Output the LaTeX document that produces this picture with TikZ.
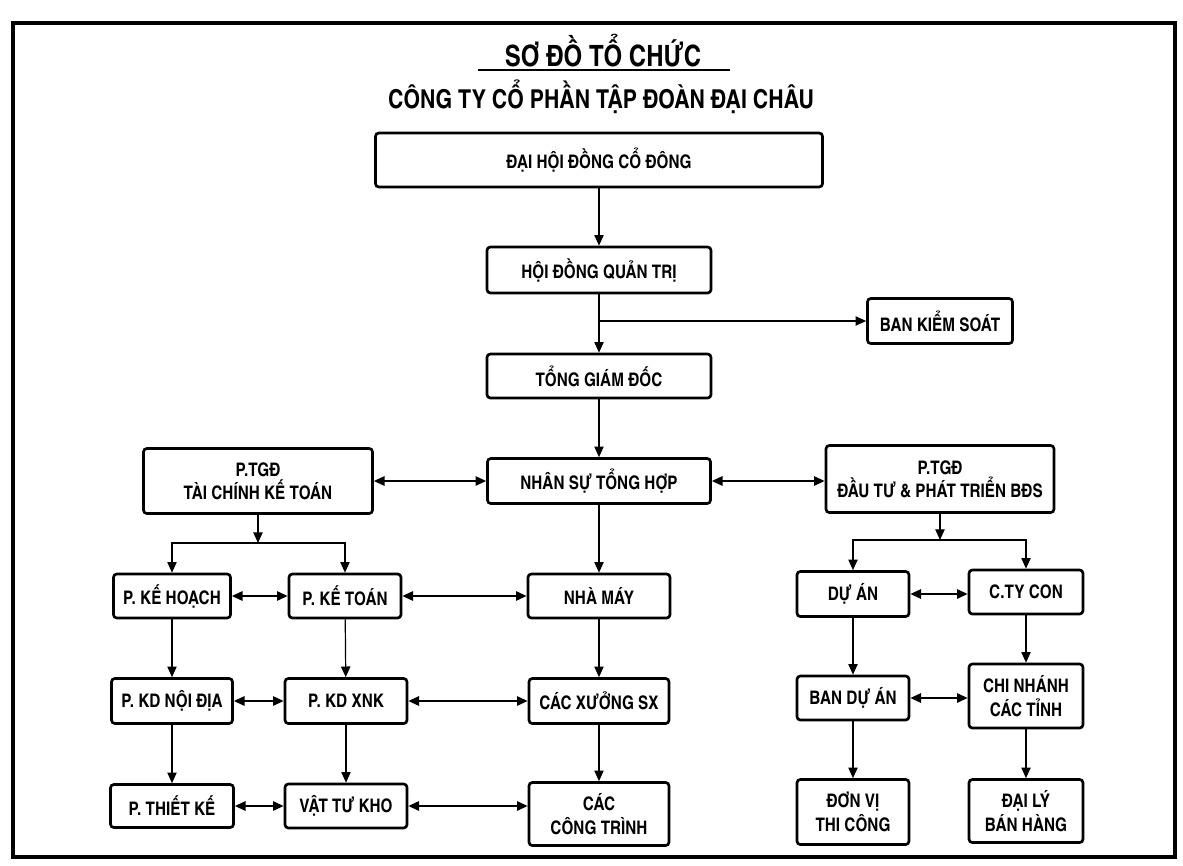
\documentclass[tikz,border=0pt]{standalone}
\usepackage{fontspec}
\setmainfont{TeX Gyre Heros Cn}
\usetikzlibrary{arrows.meta}

\tikzset{
  >={Triangle[length=8pt,width=7pt]},
  box/.style={draw=black,line width=2pt,rounded corners=2.5pt,fill=white,
    align=center,inner sep=1pt,font=\bfseries\fontsize{14}{17.5}\selectfont},
  wh/.style 2 args={minimum width=#1*0.75pt,minimum height=#2*0.75pt},
  link/.style={black,line width=0.9pt,->},
  both/.style={black,line width=1.4pt,<->},
}

\begin{document}
\begin{tikzpicture}
  % one unit is one pixel of the scan, y runs downwards
  \begin{scope}[x=0.75pt,y=-0.75pt,every node/.style={box}]
    \useasboundingbox (0,0) rectangle (1183,865);
    \draw[line width=2.4pt] (13,23) rectangle (1175,857);

    \node[draw=none,fill=none,font=\bfseries\fontsize{22}{26}\selectfont] (title) at (603,51) {SƠ ĐỒ TỔ CHỨC};
    \draw[line width=1.6pt] (478,70) -- (730,70);
    \node[draw=none,fill=none,font=\bfseries\fontsize{19.5}{23}\selectfont] (subtitle) at (601,97) {CÔNG TY CỔ PHẦN TẬP ĐOÀN ĐẠI CHÂU};

    % top of the chart
    \node[wh={447}{54}] (DHDCD) at (599,160) {ĐẠI HỘI ĐỒNG CỔ ĐÔNG};
    \node[wh={224}{46}] (HDQT) at (599,270) {HỘI ĐỒNG QUẢN TRỊ};
    \node[wh={145}{45}] (BKS) at (940,321) {BAN KIỂM SOÁT};
    \node[wh={224}{44}] (TGD) at (599,376) {TỔNG GIÁM ĐỐC};
    \coordinate (J_bks) at (599,321);

    \draw[link] (DHDCD) -- (HDQT);
    \draw[link] (HDQT) -- (TGD);
    \draw[link] (J_bks) -- (BKS);

    % middle row
    \node[wh={229}{65}] (TCKT) at (258,481) {P.TGĐ\\TÀI CHÍNH KẾ TOÁN};
    \node[wh={223}{45}] (NSTH) at (599,481) {NHÂN SỰ TỔNG HỢP};
    \node[wh={228}{67}] (DTPT) at (940,479) {P.TGĐ\\ĐẦU TƯ \& PHÁT TRIỂN BĐS};

    \draw[link] (TGD) -- (NSTH);
    \draw[both] (TCKT) -- (NSTH);
    \draw[both] (NSTH) -- (NSTH -| DTPT.west);

    % left and centre columns
    \node[wh={117}{44}] (PKH) at (172,596) {P. KẾ HOẠCH};
    \node[wh={112}{44}] (PKT) at (345,596) {P. KẾ TOÁN};
    \node[wh={142}{44}] (NM) at (599,596) {NHÀ MÁY};
    \node[wh={121}{45}] (KDND) at (172,701) {P. KD NỘI ĐỊA};
    \node[wh={122}{45}] (KDXNK) at (346,701) {P. KD XNK};
    \node[wh={140}{45}] (XSX) at (599,701) {CÁC XƯỞNG SX};
    \node[wh={123}{43}] (PTK) at (172,806) {P. THIẾT KẾ};
    \node[wh={122}{44}] (VTK) at (346,806) {VẬT TƯ KHO};
    \node[wh={140}{63}] (CCT) at (599,814) {CÁC\\CÔNG TRÌNH};

    \coordinate (J_L) at (258,543);
    \draw[link] (TCKT) -- (J_L);
    \draw[link] (J_L) -| (PKH);
    \draw[link] (J_L) -| (PKT);
    \draw[link] (NSTH) -- (NM);
    \draw[link] (PKH) -- (KDND);
    \draw[link] (KDND) -- (PTK);
    \draw[link] (PKT) -- (KDXNK);
    \draw[link] (KDXNK) -- (VTK);
    \draw[link] (NM) -- (XSX);
    \draw[link] (XSX) -- (CCT);
    \draw[both] (PKH) -- (PKT);
    \draw[both] (PKT) -- (NM);
    \draw[both] (KDND) -- (KDXNK);
    \draw[both] (KDXNK) -- (XSX);
    \draw[both] (PTK) -- (VTK);
    \draw[both] (VTK) -- (VTK -| CCT.west);

    % right columns
    \node[wh={112}{45}] (DA) at (853,594) {DỰ ÁN};
    \node[wh={114}{44}] (CTC) at (1026,592) {C.TY CON};
    \node[wh={112}{44}] (BDA) at (853,698) {BAN DỰ ÁN};
    \node[wh={114}{64}] (CNCT) at (1026,696) {CHI NHÁNH\\CÁC TỈNH};
    \node[wh={112}{65}] (DVTC) at (853,812) {ĐƠN VỊ\\THI CÔNG};
    \node[wh={114}{63}] (DLBH) at (1026,811) {ĐẠI LÝ\\BÁN HÀNG};

    \coordinate (J_R) at (940,540);
    \draw[link] (DTPT) -- (J_R);
    \draw[link] (J_R) -| (DA);
    \draw[link] (J_R) -| (CTC);
    \draw[link] (DA) -- (BDA);
    \draw[link] (BDA) -- (DVTC);
    \draw[link] (CTC) -- (CNCT);
    \draw[link] (CNCT) -- (DLBH);
    \draw[both] (DA) -- (DA -| CTC.west);
    \draw[both] (BDA) -- (BDA -| CNCT.west);
  \end{scope}
\end{tikzpicture}
\end{document}
